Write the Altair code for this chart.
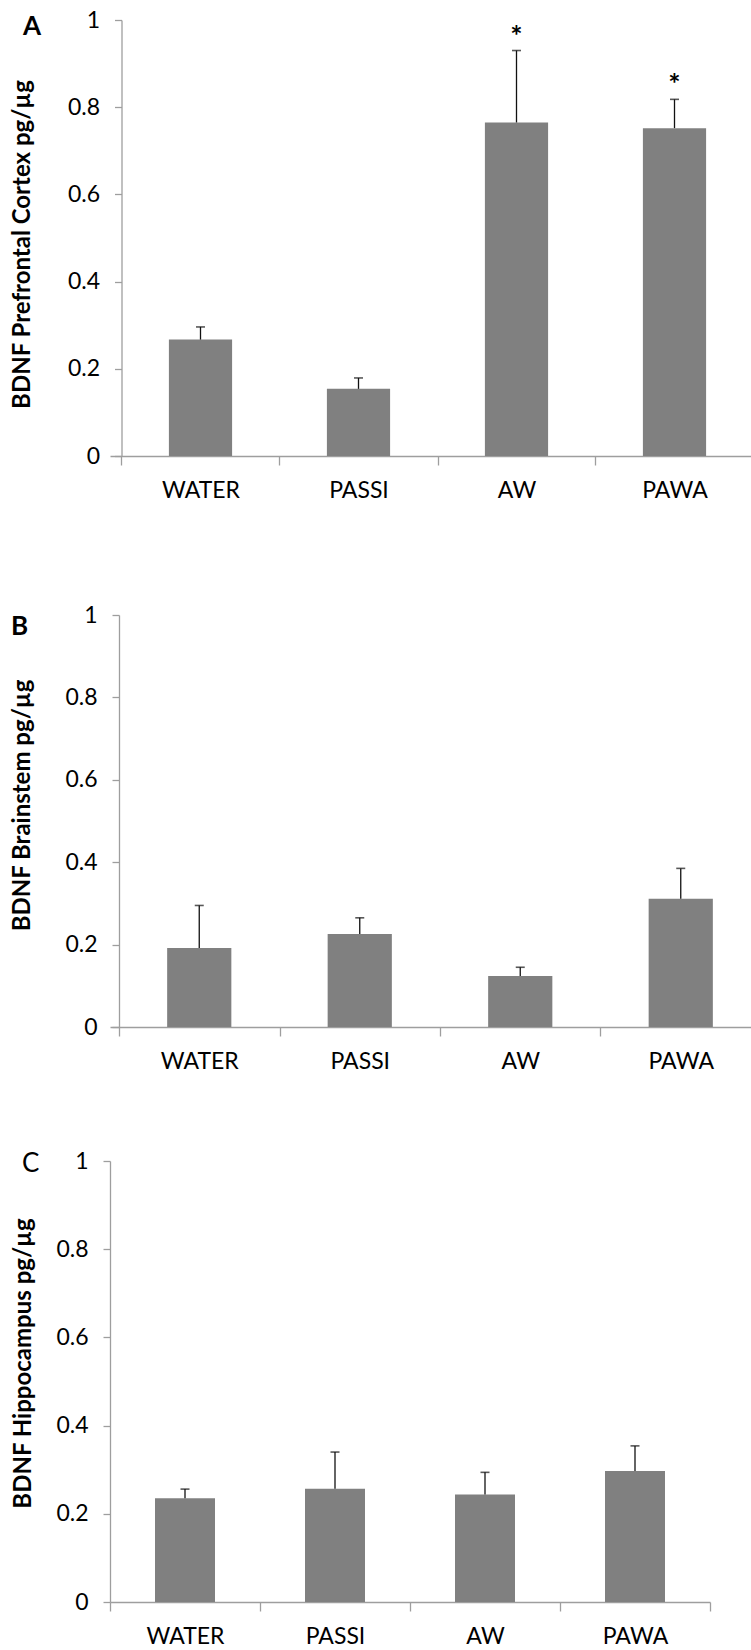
import json
import altair as alt
import pandas as pd

# ---------------- data ----------------
categories = ["WATER", "PASSI", "AW", "PAWA"]

pfc_mean = [0.267, 0.154, 0.765, 0.752]
pfc_err_top = [0.296, 0.179, 0.930, 0.818]
pfc_stars = ["", "", "*", "*"]

bs_mean = [0.192, 0.226, 0.124, 0.311]
bs_err_top = [0.295, 0.265, 0.145, 0.385]
bs_stars = ["", "", "", ""]

hip_mean = [0.235, 0.257, 0.244, 0.297]
hip_err_top = [0.256, 0.340, 0.294, 0.354]
hip_stars = ["", "", "", ""]

y_ticks = [0, 0.2, 0.4, 0.6, 0.8, 1.0]

FONT = "Lato"
AXIS_GRAY = "#9e9e9e"
BAR_GRAY = "#808080"


def panel(mean, err, stars, title, letter, letter_bold, step, axis_shift,
          width, height, title_x, title_y, letter_x, letter_y):
    df = pd.DataFrame({
        "cat": categories,
        "idx": list(range(len(categories))),
        "mean": mean,
        "err": err,
        "star": stars,
    })
    x0 = -axis_shift / step
    x1 = x0 + width / step
    vals = [v / 2 for v in range(0, 2 * len(categories) + 1) if x0 <= v / 2 <= x1]
    x_scale = alt.Scale(domain=[x0, x1], nice=False, zero=False)
    y_scale = alt.Scale(domain=[0, 1], nice=False)
    label_expr = ("(datum.value % 1 == 0.5) ? " + json.dumps(categories)
                  + "[floor(datum.value)] : ''")
    x_axis = alt.Axis(
        values=vals, labelExpr=label_expr, title=None, grid=False,
        tickOpacity={"condition": {"test": "datum.value % 1 != 0", "value": 0}, "value": 1},
        tickSize=9, tickWidth=1.3, tickColor=AXIS_GRAY,
        domainColor=AXIS_GRAY, domainWidth=1.3,
        labelFont=FONT, labelFontSize=23, labelColor="#000000",
        labelPadding=14, labelFlush=False, labelOverlap=False, labelBound=False,
    )
    y_axis = alt.Axis(
        values=y_ticks, format=".1~f", grid=False, title=title,
        tickSize=7, tickWidth=1.3, tickColor=AXIS_GRAY,
        domainColor=AXIS_GRAY, domainWidth=1.3,
        labelFont=FONT, labelFontSize=23, labelColor="#000000", labelPadding=15,
        offset=-axis_shift,
        titleFont=FONT, titleFontSize=24, titleFontWeight="bold", titleColor="#000000",
        titleX=title_x, titleY=title_y,
    )
    base = alt.Chart(df).transform_calculate(
        lo="datum.idx + 0.3", hi="datum.idx + 0.7", mid="datum.idx + 0.5"
    )
    bars = base.mark_bar(color=BAR_GRAY).encode(
        x=alt.X("lo:Q", scale=x_scale, axis=x_axis),
        x2="hi:Q",
        y=alt.Y("mean:Q", scale=y_scale, axis=y_axis),
        y2=alt.datum(0),
    )
    whisk = base.mark_rule(color="#111111", strokeWidth=1.3).encode(
        x=alt.X("mid:Q", scale=x_scale, axis=x_axis),
        y=alt.Y("mean:Q", scale=y_scale, axis=y_axis),
        y2="err:Q",
    )
    cap = base.mark_tick(orient="horizontal", size=9, thickness=1.6, color="#111111").encode(
        x=alt.X("mid:Q", scale=x_scale, axis=x_axis),
        y=alt.Y("err:Q", scale=y_scale, axis=y_axis),
    )
    star = base.mark_text(font=FONT, fontSize=29, fontWeight="bold", baseline="alphabetic",
                          dy=-5, color="#000000").encode(
        x=alt.X("mid:Q", scale=x_scale, axis=x_axis),
        y=alt.Y("err:Q", scale=y_scale, axis=y_axis),
        text="star:N",
    )
    lab = alt.Chart(pd.DataFrame({"t": [letter]})).mark_text(
        font=FONT, fontSize=26, fontWeight="bold" if letter_bold else "normal",
        align="left", baseline="middle", color="#000000",
    ).encode(x=alt.value(letter_x), y=alt.value(letter_y), text="t:N")
    return alt.layer(bars, whisk, cap, star, lab).properties(width=width, height=height)


pA = panel(pfc_mean, pfc_err_top, pfc_stars, "BDNF Prefrontal Cortex pg/\u00b5g", "A", True,
           step=158, axis_shift=11.5, width=641, height=436,
           title_x=-87, title_y=224, letter_x=-87, letter_y=7)
pB = panel(bs_mean, bs_err_top, bs_stars, "BDNF Brainstem pg/\u00b5g", "B", True,
           step=160.5, axis_shift=9, width=641, height=412,
           title_x=-85, title_y=190, letter_x=-99, letter_y=12)
pC = panel(hip_mean, hip_err_top, hip_stars, "BDNF Hippocampus  pg/\u00b5g", "C", False,
           step=150, axis_shift=0, width=600, height=441,
           title_x=-75, title_y=202, letter_x=-88, letter_y=3)

chart = alt.vconcat(
    alt.vconcat(pA, pB, spacing=102),
    pC, spacing=77,
).properties(
    padding={"left": 10, "top": 9, "right": 0, "bottom": 0},
    background="white",
).configure_view(stroke=None)

chart.save("out.html", embed_options={"renderer": "svg", "actions": False})
